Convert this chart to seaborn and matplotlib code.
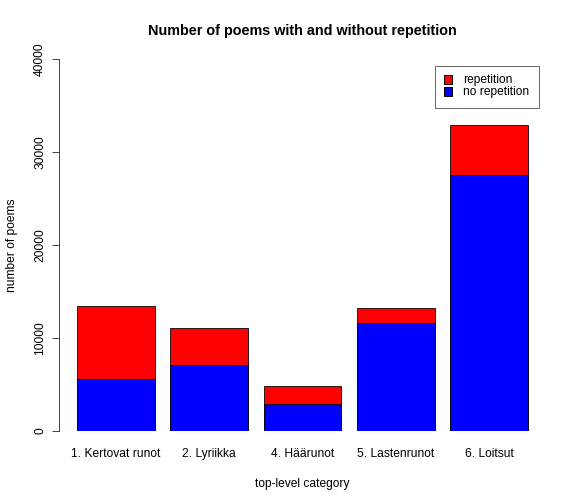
import seaborn as sns
import pandas as pd
import matplotlib.pyplot as plt
from matplotlib.patches import Patch

categorias = ['1. Kertovat runot', '2. Lyriikka', '4. Häärunot', '5. Lastenrunot', '6. Loitsut']
sem_repeticao = [5640, 7080, 2910, 11610, 27530]
com_repeticao = [7760, 3990, 1940, 1620, 5390]

df = pd.DataFrame({'categoria': categorias,
                   'no_rep': sem_repeticao,
                   'rep': com_repeticao})
df['total'] = df['no_rep'] + df['rep']

sns.set_style('white')
plt.rcParams['font.family'] = ['Liberation Sans', 'DejaVu Sans']
plt.rcParams['text.color'] = 'black'
plt.rcParams['axes.labelcolor'] = 'black'
plt.rcParams['xtick.color'] = 'black'
plt.rcParams['ytick.color'] = 'black'

fig = plt.figure(figsize=(8, 7), dpi=72)
ax = fig.add_axes([59/576, 73/504, 487/576, 372/504])

largura = 1 / 1.2
# barra total (vermelho) e por cima a parte sem repetição (azul)
sns.barplot(data=df, x='categoria', y='total', color='#ff0000', saturation=1,
            width=largura, edgecolor='black', linewidth=0.8, ax=ax)
sns.barplot(data=df, x='categoria', y='no_rep', color='#0000ff', saturation=1,
            width=largura, edgecolor='black', linewidth=0.8, ax=ax)

ax.set_xlim(-0.61, 4.61)
ax.set_ylim(0, 40000)
for lado in ['top', 'right', 'bottom']:
    ax.spines[lado].set_visible(False)
ax.spines['left'].set_bounds(0, 40000)
ax.spines['left'].set_color('#333333')
ax.spines['left'].set_linewidth(0.9)

ax.set_yticks([0, 10000, 20000, 30000, 40000])
ax.set_yticklabels(['0', '10000', '20000', '30000', '40000'], rotation=90, va='center')
ax.tick_params(axis='y', length=7, width=0.9, color='#333333', labelsize=12, pad=6, left=True)
ax.tick_params(axis='x', length=0, labelsize=12, pad=17)

ax.set_xlabel('top-level category', fontsize=12, labelpad=18)
ax.set_ylabel('number of poems', fontsize=12, labelpad=16)
ax.set_title('Number of poems with and without repetition', fontsize=14.4,
             fontweight='bold', pad=24)

legenda = [Patch(facecolor='#ff0000', edgecolor='black', label='repetition'),
           Patch(facecolor='#0000ff', edgecolor='black', label='no repetition')]
leg = fig.legend(handles=legenda, loc='upper right',
                 bbox_to_anchor=(538.5/576, 1 - 65.5/504),
                 fontsize=12, frameon=True, fancybox=False, handlelength=0.7,
                 handleheight=0.7, handletextpad=0.95, borderpad=0.75, labelspacing=0.0,
                 borderaxespad=0)
leg.get_frame().set_edgecolor('#333333')
leg.get_frame().set_linewidth(0.9)

plt.savefig('out.png', dpi=72)
